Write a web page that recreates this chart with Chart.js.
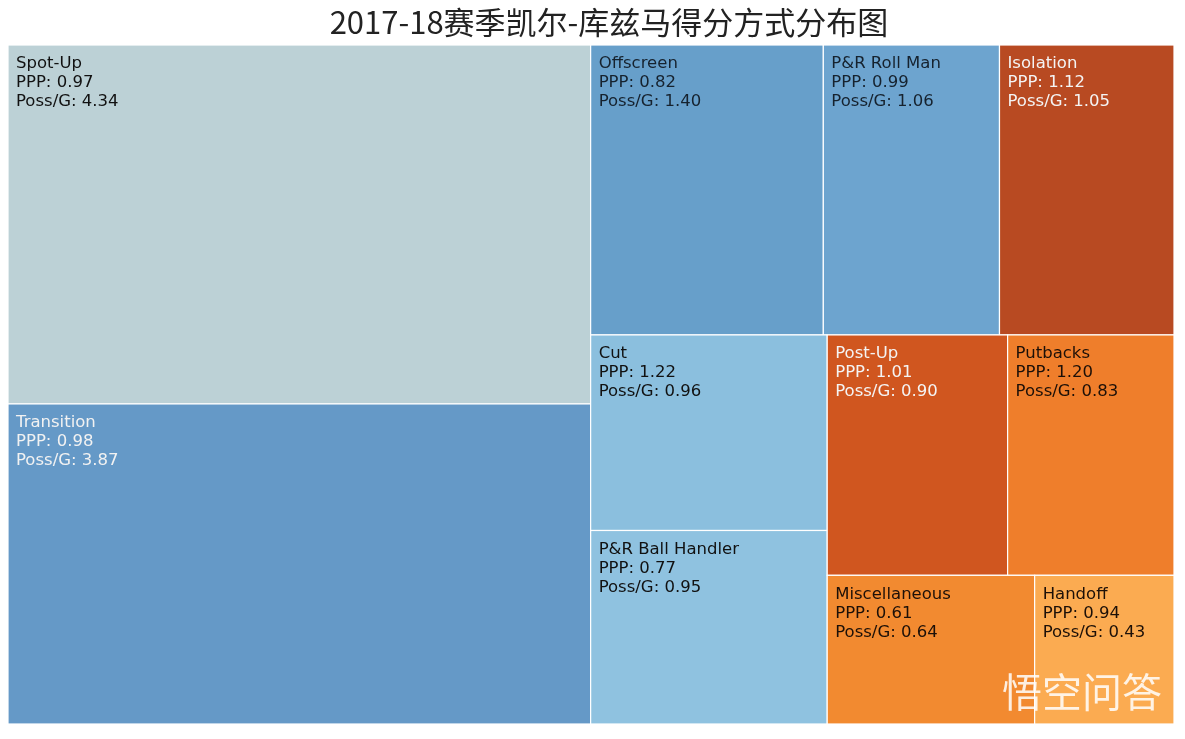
<!DOCTYPE html>
<html>
<head>
<meta charset="utf-8">
<script src="https://cdn.jsdelivr.net/npm/chart.js@4/dist/chart.umd.min.js"></script>
<style>
  html, body { margin: 0; padding: 0; background: #fff; }
  #wrap { width: 1185px; height: 739px; position: relative; }
</style>
</head>
<body>
<div id="wrap"><canvas id="treeChart"></canvas></div>
<script>
var chartTitle = '2017-18赛季凯尔-库兹马得分方式分布图';
var playTypes = ['Spot-Up', 'Transition', 'Offscreen', 'P&R Roll Man', 'Isolation', 'Cut',
                 'P&R Ball Handler', 'Post-Up', 'Putbacks', 'Miscellaneous', 'Handoff'];
var pppValues = [0.97, 0.98, 0.82, 0.99, 1.12, 1.22, 0.77, 1.01, 1.20, 0.61, 0.94];
var possPerGame = [4.34, 3.87, 1.40, 1.06, 1.05, 0.96, 0.95, 0.90, 0.83, 0.64, 0.43];
var cellColors = ['#bcd1d6', '#6599c7', '#679fca', '#6da4cf', '#b84a22', '#8bbfde',
                  '#8fc2e0', '#d0561f', '#ef7e2b', '#f28a30', '#fbab51'];
var textColors = ['#111', '#f2f2f2', '#16222e', '#16222e', '#f4f4f4', '#111',
                  '#111', '#f4f4f4', '#1c1008', '#1c1008', '#1c1008'];

// d3-style squarified layout (ratio = golden ratio), works in chart-area pixel units
var squarify = function(values, w, h){
  var ratio = (1 + Math.sqrt(5)) / 2;
  var rects = [];
  var x0 = 0, y0 = 0, x1 = w, y1 = h;
  var value = values.reduce(function(a, b){ return a + b; }, 0);
  var i0 = 0, i1 = 0, n = values.length;
  while(i0 < n){
    var dx = x1 - x0, dy = y1 - y0;
    var sum = values[i1++];
    var minV = sum, maxV = sum;
    var alpha = Math.max(dy / dx, dx / dy) / (value * ratio);
    var beta = sum * sum * alpha;
    var minRatio = Math.max(maxV / beta, beta / minV);
    for(; i1 < n; i1++){
      var v = values[i1];
      sum += v;
      if(v < minV) minV = v;
      if(v > maxV) maxV = v;
      beta = sum * sum * alpha;
      var newRatio = Math.max(maxV / beta, beta / minV);
      if(newRatio > minRatio){ sum -= v; break; }
      minRatio = newRatio;
    }
    var k, pos;
    if(dx < dy){
      var ry1 = i1 >= n ? y1 : y0 + dy * sum / value;
      pos = x0;
      for(k = i0; k < i1; k++){
        var cw = (x1 - x0) * values[k] / sum;
        rects[k] = {x0: pos, y0: y0, x1: pos + cw, y1: ry1};
        pos += cw;
      }
      y0 = ry1;
    } else {
      var rx1 = i1 >= n ? x1 : x0 + dx * sum / value;
      pos = y0;
      for(k = i0; k < i1; k++){
        var ch = (y1 - y0) * values[k] / sum;
        rects[k] = {x0: x0, y0: pos, x1: rx1, y1: pos + ch};
        pos += ch;
      }
      x0 = rx1;
    }
    value -= sum;
    i0 = i1;
  }
  return rects;
};

var treemapPlugin = {
  id: 'treemapCells',
  beforeDatasetsDraw: function(chart){
    var ctx = chart.ctx;
    var area = chart.chartArea;
    var xs = chart.scales.x, ys = chart.scales.y;
    var w = area.right - area.left, h = area.bottom - area.top;
    var rects = squarify(possPerGame, w, h);
    ctx.save();
    for(var i = 0; i < rects.length; i++){
      var r = rects[i];
      var px0 = xs.getPixelForValue(r.x0 / w), px1 = xs.getPixelForValue(r.x1 / w);
      var py0 = ys.getPixelForValue(r.y0 / h), py1 = ys.getPixelForValue(r.y1 / h);
      ctx.fillStyle = cellColors[i];
      ctx.fillRect(px0, py0, px1 - px0, py1 - py0);
      ctx.strokeStyle = '#ffffff';
      ctx.lineWidth = 1.2;
      ctx.strokeRect(px0, py0, px1 - px0, py1 - py0);

      ctx.fillStyle = textColors[i];
      ctx.font = '16.5px "DejaVu Sans", Verdana, sans-serif';
      ctx.textAlign = 'left';
      ctx.textBaseline = 'middle';
      var lines = [playTypes[i], 'PPP: ' + pppValues[i].toFixed(2), 'Poss/G: ' + possPerGame[i].toFixed(2)];
      for(var j = 0; j < lines.length; j++){
        ctx.fillText(lines[j], px0 + 8, py0 + 19 + j * 19);
      }
    }
    ctx.restore();
  },
  afterDraw: function(chart){
    var ctx = chart.ctx;
    ctx.save();
    ctx.fillStyle = '#222';
    ctx.font = '31px "Noto Sans CJK SC", sans-serif';
    ctx.textAlign = 'center';
    ctx.textBaseline = 'middle';
    ctx.fillText(chartTitle, 609, 22);

    // watermark
    ctx.fillStyle = 'rgba(255,255,255,0.85)';
    ctx.font = '40px "Noto Sans CJK SC", sans-serif';
    ctx.textAlign = 'left';
    ctx.fillText('悟空问答', 1002, 692);
    ctx.restore();
  }
};

var treeChart = new Chart(document.getElementById('treeChart').getContext('2d'), {
  type: 'scatter',
  data: { datasets: [{ data: [] }] },
  options: {
    responsive: true,
    maintainAspectRatio: false,
    animation: false,
    layout: { padding: { left: 8, right: 11, top: 45, bottom: 15 } },
    plugins: { legend: { display: false }, tooltip: { enabled: false }, title: { display: false } },
    scales: {
      x: { type: 'linear', min: 0, max: 1, display: false },
      y: { type: 'linear', min: 0, max: 1, reverse: true, display: false }
    }
  },
  plugins: [treemapPlugin]
});
</script>
</body>
</html>
